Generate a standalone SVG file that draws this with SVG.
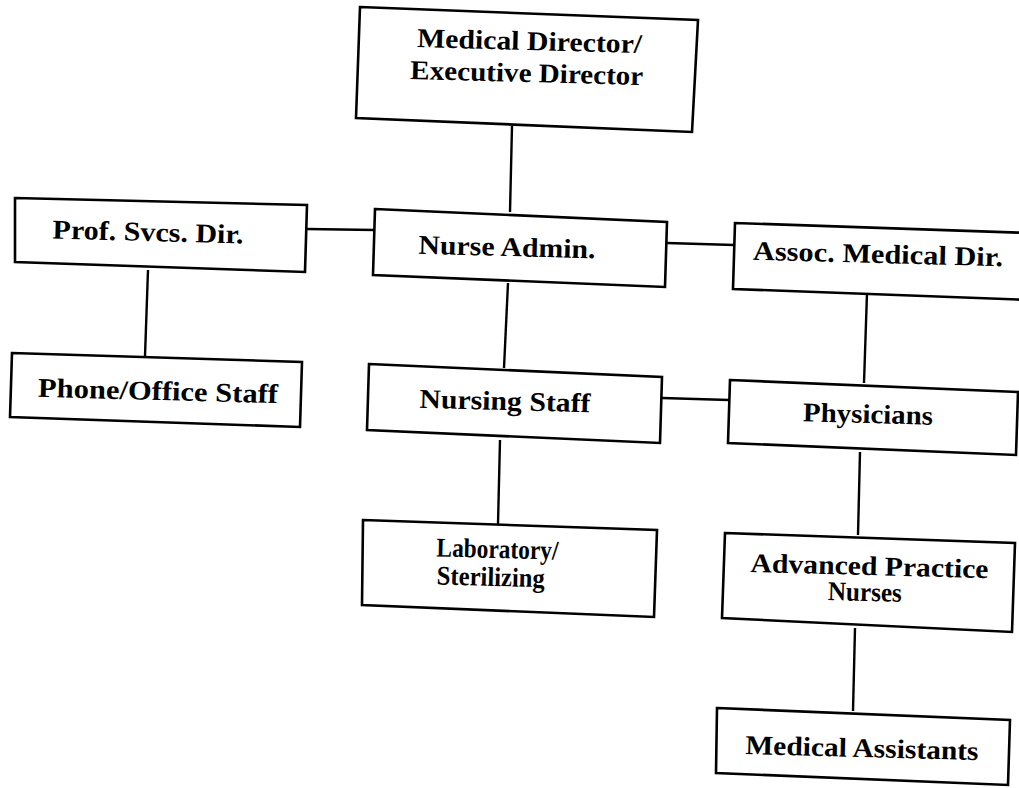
<svg xmlns="http://www.w3.org/2000/svg" width="1019" height="788" viewBox="0 0 1019 788">
<style>
.box{fill:#fff;stroke:#000;stroke-width:2.6;stroke-linejoin:miter}
.ln{fill:none;stroke:#000;stroke-width:2.4}
.t{font-family:"Liberation Serif","Times New Roman",serif;font-weight:bold;font-size:27px;fill:#000}
</style>
<rect width="1019" height="788" fill="#fff"/>
<g id="connectors">
<line class="ln" x1="512" y1="126" x2="510" y2="212"/>
<line class="ln" x1="307" y1="229" x2="375" y2="230"/>
<line class="ln" x1="148" y1="270" x2="145" y2="356"/>
<line class="ln" x1="667" y1="243" x2="734" y2="245"/>
<line class="ln" x1="508" y1="283" x2="504" y2="368"/>
<line class="ln" x1="867" y1="293" x2="864" y2="383"/>
<line class="ln" x1="662" y1="398" x2="729" y2="400"/>
<line class="ln" x1="500" y1="440" x2="498" y2="524"/>
<line class="ln" x1="860" y1="452" x2="858" y2="535"/>
<line class="ln" x1="855" y1="628" x2="853" y2="711"/>
</g>
<g id="n-medical-director">
<polygon class="box" points="360,7 698,20 692,132 356,118"/>
<g transform="rotate(1.5 528 66)">
<text class="t" x="529" y="50" text-anchor="middle" textLength="225" lengthAdjust="spacingAndGlyphs">Medical Director/</text>
<text class="t" x="527" y="82" text-anchor="middle" textLength="233" lengthAdjust="spacingAndGlyphs">Executive Director</text>
</g>
</g>
<g id="n-prof-svcs">
<polygon class="box" points="15,198 307,205 305,272 15,262"/>
<text class="t" x="148" y="241" text-anchor="middle" textLength="191" lengthAdjust="spacingAndGlyphs" transform="rotate(1.5 148 234)">Prof. Svcs. Dir.</text>
</g>
<g id="n-phone-office">
<polygon class="box" points="12,353 302,362 300,427 10,417"/>
<text class="t" x="158" y="400" text-anchor="middle" textLength="240" lengthAdjust="spacingAndGlyphs" transform="rotate(1.5 158 392)">Phone/Office Staff</text>
</g>
<g id="n-nurse-admin">
<polygon class="box" points="375,209 667,222 665,287 373,275"/>
<text class="t" x="507" y="256" text-anchor="middle" textLength="177" lengthAdjust="spacingAndGlyphs" transform="rotate(1.5 507 248)">Nurse Admin.</text>
</g>
<g id="n-assoc-medical">
<polyline class="box" points="1030,233 735,223 733,289 1030,300"/>
<text class="t" x="878" y="263" text-anchor="middle" textLength="250" lengthAdjust="spacingAndGlyphs" transform="rotate(1.5 878 255)">Assoc. Medical Dir.</text>
</g>
<g id="n-nursing-staff">
<polygon class="box" points="369,364 662,377 660,443 367,430"/>
<text class="t" x="505" y="410" text-anchor="middle" textLength="171" lengthAdjust="spacingAndGlyphs" transform="rotate(1.5 505 402)">Nursing Staff</text>
</g>
<g id="n-physicians">
<polygon class="box" points="730,380 1018,392 1016,455 728,443"/>
<text class="t" x="868" y="423" text-anchor="middle" textLength="130" lengthAdjust="spacingAndGlyphs" transform="rotate(1.5 868 415)">Physicians</text>
</g>
<g id="n-laboratory">
<polygon class="box" points="363,520 657,530 654,617 362,605"/>
<g transform="rotate(1.5 497 570)">
<text class="t" x="497" y="558" text-anchor="middle" textLength="122" lengthAdjust="spacingAndGlyphs">Laboratory/</text>
<text class="t" x="491" y="586" text-anchor="middle" textLength="108" lengthAdjust="spacingAndGlyphs">Sterilizing</text>
</g>
</g>
<g id="n-apn">
<polygon class="box" points="725,533 1015,543 1012,632 722,618"/>
<g transform="rotate(1.5 869 587)">
<text class="t" x="869" y="575" text-anchor="middle" textLength="238" lengthAdjust="spacingAndGlyphs">Advanced Practice</text>
<text class="t" x="865" y="601" text-anchor="middle" textLength="74" lengthAdjust="spacingAndGlyphs">Nurses</text>
</g>
</g>
<g id="n-medical-assistants">
<polygon class="box" points="717,708 1010,720 1008,785 716,773"/>
<text class="t" x="862" y="757" text-anchor="middle" textLength="233" lengthAdjust="spacingAndGlyphs" transform="rotate(1.5 862 749)">Medical Assistants</text>
</g>
</svg>
